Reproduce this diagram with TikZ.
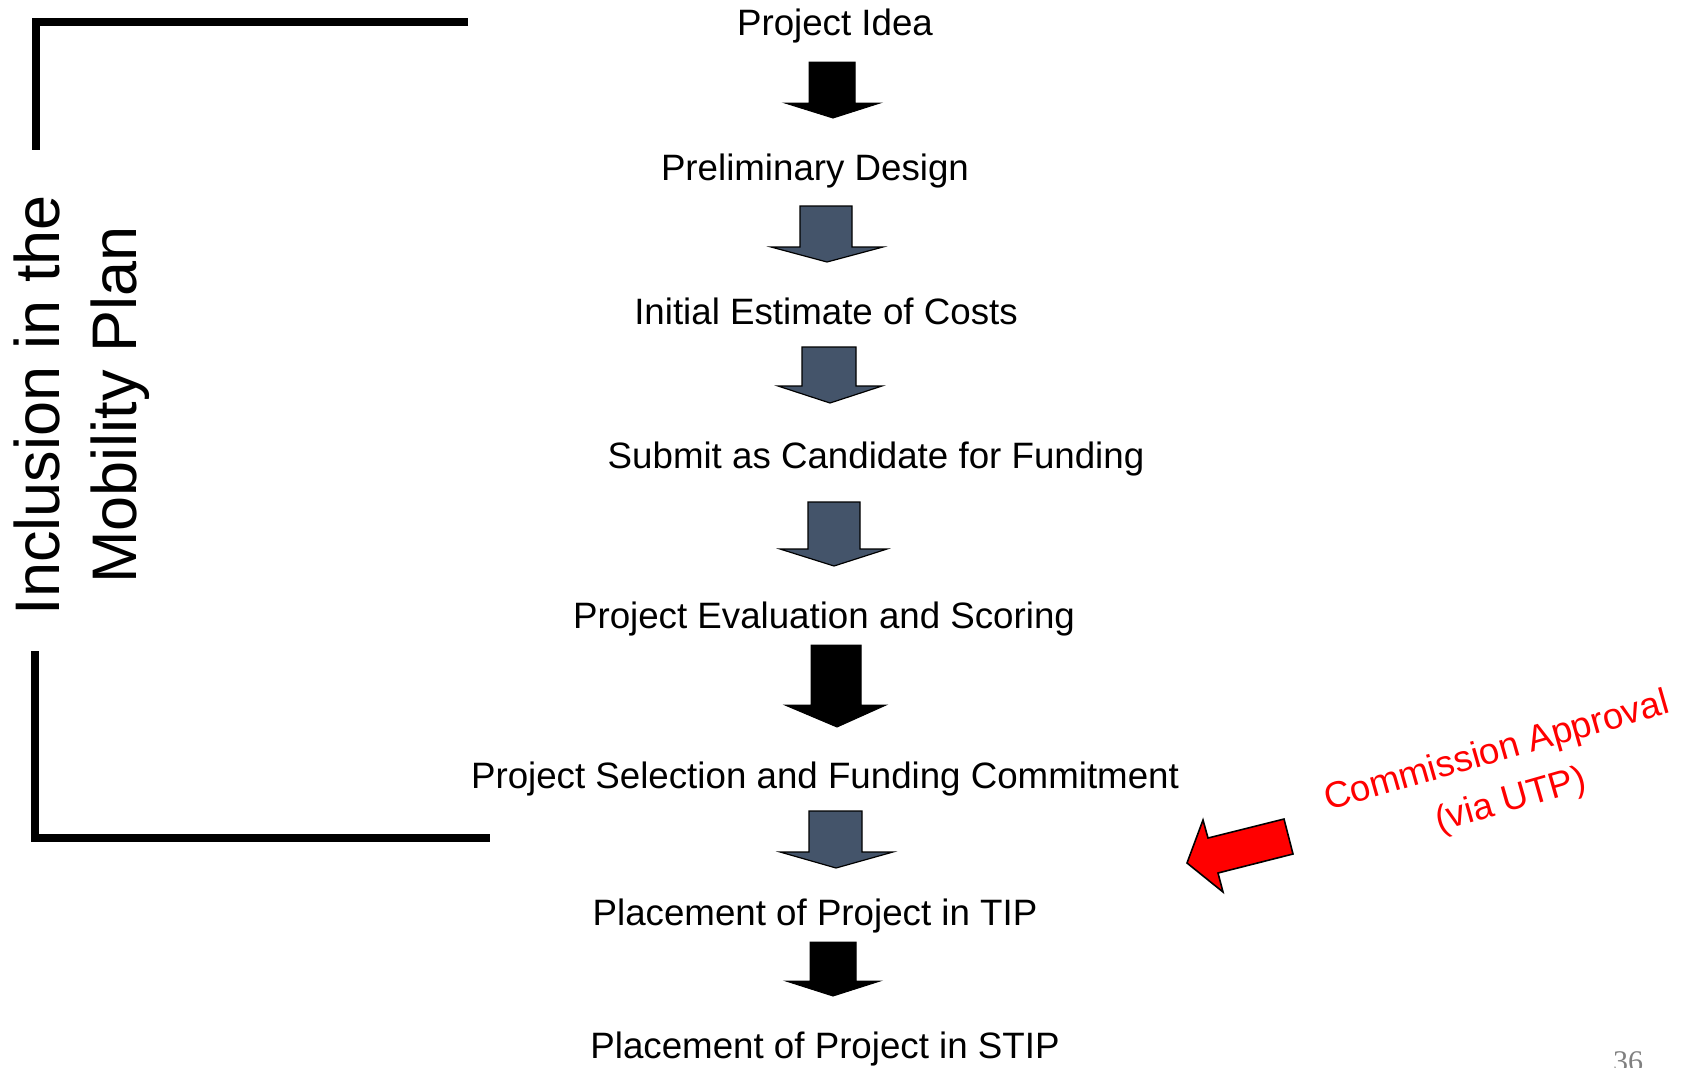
\documentclass[tikz,border=0pt]{standalone}
\usepackage{fontspec}
\setmainfont{Liberation Sans}
\newfontfamily\pagefont{Liberation Serif}
\definecolor{slateblue}{RGB}{68,84,106}
\definecolor{pagegray}{RGB}{128,128,128}
\tikzset{
  steptext/.style={anchor=base,inner sep=0pt,font=\fontsize{18.35}{22}\selectfont},
  darkarrow/.style={fill=black,draw=black,line width=0.5pt},
  slatearrow/.style={fill=slateblue,draw=black,line width=0.6pt},
}

\begin{document}
\begin{tikzpicture}[x=0.5pt,y=-0.5pt]
  \useasboundingbox (0,0) rectangle (1694,1067);
  % bracket:
  \draw[line width=4pt] (468,22) -- (36,22) -- (36,150);
  \draw[line width=4pt] (35,651) -- (35,838) -- (490,838);
  \node[rotate=90,align=center,inner sep=0pt,font=\fontsize{31.5}{38.5}\selectfont] (inclusion) at (82,405) {Inclusion in the\\Mobility Plan};

  % steps:
  \node[steptext] (idea) at (835,35) {Project Idea};
  \node[steptext] (prelim) at (815,180) {Preliminary Design};
  \node[steptext] (estimate) at (826,324) {Initial Estimate of Costs};
  \node[steptext] (submit) at (876,468) {Submit as Candidate for Funding};
  \node[steptext] (evaluation) at (824,628) {Project Evaluation and Scoring};
  \node[steptext] (selection) at (825,788) {Project Selection and Funding Commitment};
  \node[steptext] (tip) at (815,925) {Placement of Project in TIP};
  \node[steptext] (stip) at (825,1058) {Placement of Project in STIP};

  % block arrows:
  \filldraw[darkarrow] (809,62) -- (855,62) -- (855,103) -- (880,103) -- (833,118) -- (785,103) -- (809,103) -- cycle;
  \filldraw[slatearrow] (800,206) -- (852,206) -- (852,247) -- (883,247) -- (827,262) -- (771,247) -- (800,247) -- cycle;
  \filldraw[slatearrow] (802,347) -- (856,347) -- (856,386) -- (882,386) -- (830,403) -- (778,386) -- (802,386) -- cycle;
  \filldraw[slatearrow] (808,502) -- (860,502) -- (860,549) -- (887,549) -- (834,566) -- (780,549) -- (808,549) -- cycle;
  \filldraw[darkarrow] (811,645) -- (861,645) -- (861,705) -- (886,705) -- (837,727) -- (785,705) -- (811,705) -- cycle;
  \filldraw[slatearrow] (809,811) -- (862,811) -- (862,852) -- (893,852) -- (836,868) -- (780,852) -- (809,852) -- cycle;
  \filldraw[darkarrow] (810,942) -- (856,942) -- (856,981) -- (880,981) -- (833,996) -- (786,981) -- (810,981) -- cycle;

  % approval:
  \filldraw[fill=red,draw=black,line width=0.8pt] (1187,863) -- (1203,820) -- (1208,838) -- (1284,819) -- (1293,854) -- (1218,873) -- (1223,892) -- cycle;
  \node[rotate=16,align=center,inner sep=0pt,text=red,font=\fontsize{18.35}{25.5}\selectfont] (approval) at (1504,777) {Commission Approval\\(via UTP)};

  \node[anchor=base,inner sep=0pt,text=pagegray,font=\pagefont\fontsize{15}{18}\selectfont] (pagenum) at (1628,1071) {36};
\end{tikzpicture}
\end{document}
